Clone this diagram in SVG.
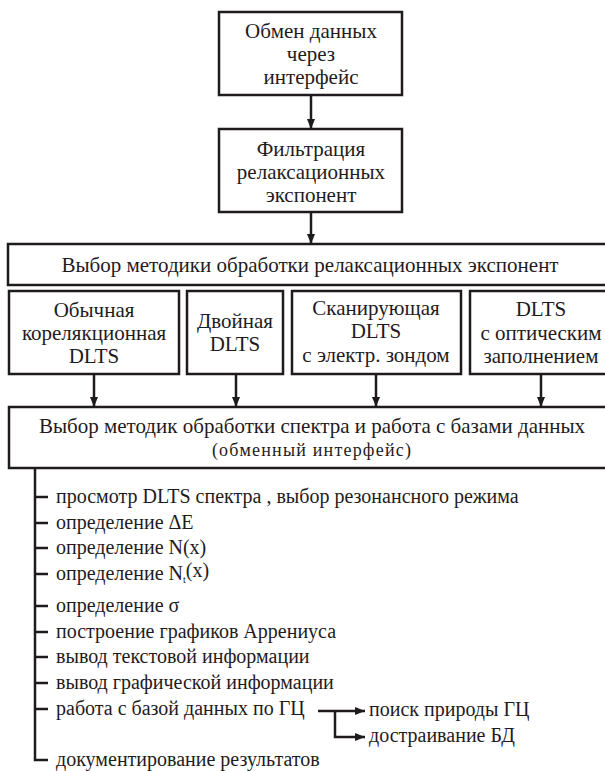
<svg xmlns="http://www.w3.org/2000/svg" width="605" height="771" viewBox="0 0 605 771">
<defs>
<marker id="ah" viewBox="0 0 10 10" refX="10" refY="5" markerWidth="10" markerHeight="10" markerUnits="userSpaceOnUse" orient="auto">
<path d="M0,1 L10,5 L0,9 Z" fill="#1f1b1c"/>
</marker>
<style>
.box{fill:#fff;stroke:#1f1b1c;stroke-width:2.5}
.c{fill:none;stroke:#1f1b1c;stroke-width:2.5}
.a{fill:none;stroke:#1f1b1c;stroke-width:2.5;marker-end:url(#ah)}
</style>
</defs>
<rect width="605" height="771" fill="#fff"/>
<g font-family="Liberation Serif, serif" font-size="21" fill="#1f1b1c">
<g text-anchor="middle">
<g id="n-exchange">
<rect class="box" x="219" y="12" width="183" height="83"/>
<text x="311" y="38">Обмен данных</text>
<text x="311" y="61">через</text>
<text x="311" y="84">интерфейс</text>
</g>
<g id="n-filter">
<rect class="box" x="219" y="129" width="183" height="83"/>
<text x="311" y="156">Фильтрация</text>
<text x="311" y="179">релаксационных</text>
<text x="311" y="202">экспонент</text>
</g>
<g id="n-method">
<rect class="box" x="8" y="244" width="620" height="41"/>
<text x="310" y="272">Выбор методики обработки релаксационных экспонент</text>
</g>
<g id="n-usual">
<rect class="box" x="9" y="291" width="170" height="83"/>
<text x="94" y="317">Обычная</text>
<text x="94" y="340">корелякционная</text>
<text x="94" y="363">DLTS</text>
</g>
<g id="n-double">
<rect class="box" x="187" y="291" width="96" height="83"/>
<text x="235" y="328">Двойная</text>
<text x="235" y="351">DLTS</text>
</g>
<g id="n-scan">
<rect class="box" x="292" y="291" width="169" height="83"/>
<text x="376" y="315">Сканирующая</text>
<text x="376" y="338">DLTS</text>
<text x="376" y="362">с электр. зондом</text>
</g>
<g id="n-optical">
<rect class="box" x="470" y="291" width="150" height="83"/>
<text x="541" y="316">DLTS</text>
<text x="541" y="340">с оптическим</text>
<text x="541" y="363">заполнением</text>
</g>
<g id="n-spectrum">
<rect class="box" x="9" y="407" width="620" height="61"/>
<text x="312" y="433">Выбор методик обработки спектра и работа с базами данных</text>
<text x="312" y="456" font-size="18" letter-spacing="1.2">(обменный интерфейс)</text>
</g>
</g>
<g id="n-list" font-size="20">
<text x="56" y="503">просмотр DLTS спектра , выбор резонансного режима</text>
<text x="56" y="529">определение ΔE</text>
<text x="56" y="554">определение N(x)</text>
<text x="56" y="580">определение N<tspan font-size="10" dy="3">t</tspan><tspan dy="-6">(x)</tspan></text>
<text x="56" y="612">определение σ</text>
<text x="56" y="638">построение графиков Аррениуса</text>
<text x="56" y="663">вывод текстовой информации</text>
<text x="56" y="689">вывод графической информации</text>
<text x="56" y="715">работа с базой данных по ГЦ</text>
<text x="56" y="766">документирование результатов</text>
</g>
<g id="n-search" font-size="20">
<text x="369" y="716">поиск природы ГЦ</text>
</g>
<g id="n-extend" font-size="20">
<text x="369" y="742">достраивание БД</text>
</g>
</g>
<g id="connectors">
<line class="a" x1="311" y1="95" x2="311" y2="129"/>
<line class="a" x1="311" y1="212" x2="311" y2="244"/>
<line class="a" x1="94" y1="374" x2="94" y2="407"/>
<line class="a" x1="236" y1="374" x2="236" y2="407"/>
<line class="a" x1="376" y1="374" x2="376" y2="407"/>
<line class="a" x1="541" y1="374" x2="541" y2="407"/>
<path class="c" d="M35,468 V760 H48"/>
<path class="c" d="M35,497 H48 M35,523 H48 M35,548 H48 M35,574 H48 M35,606 H48 M35,632 H48 M35,657 H48 M35,683 H48 M35,709 H48"/>
<line class="a" x1="318" y1="711" x2="365" y2="711"/>
<path class="a" d="M335,711 V737 H365"/>
</g>
</svg>
